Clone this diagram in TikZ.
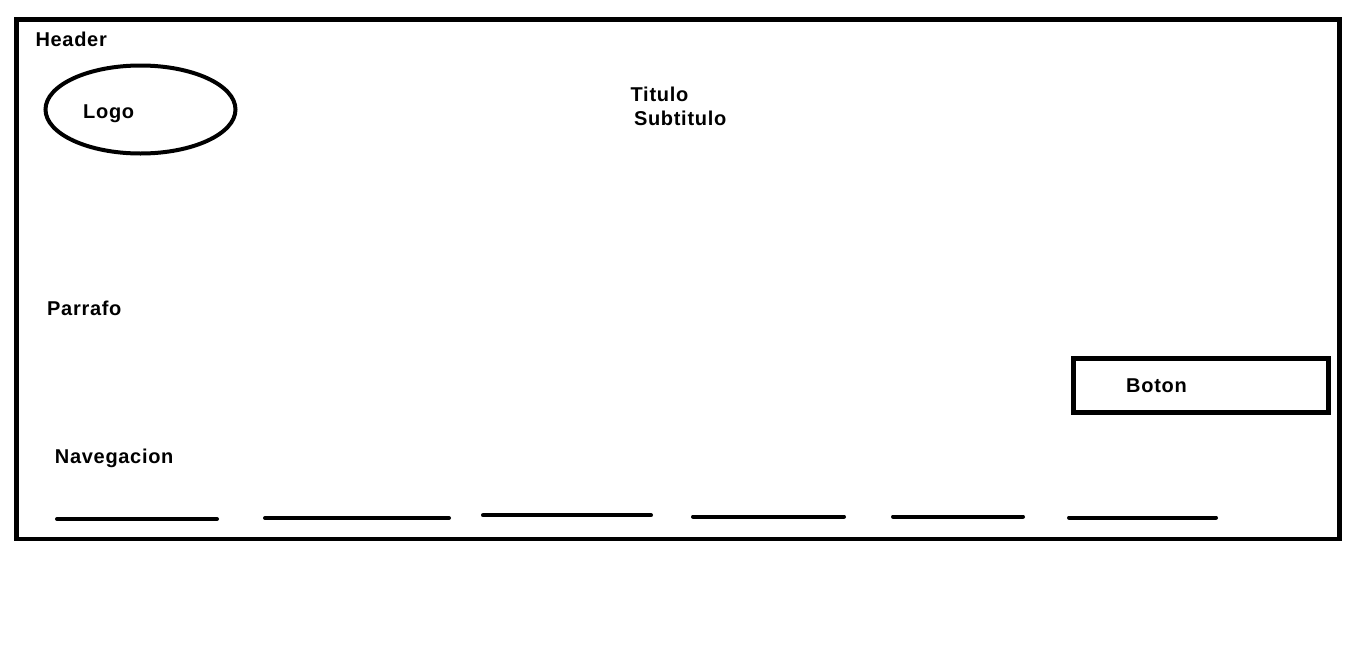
\documentclass[tikz,border=0pt]{standalone}
\usepackage{fontspec}
\setmainfont{Liberation Sans}
\newfontfamily\lblfont[LetterSpace=3.5]{Liberation Sans}
\usetikzlibrary{shapes.geometric}
\tikzset{
  lbl/.style={anchor=base west,inner sep=0pt,font=\lblfont\fontsize{20}{23}\selectfont\bfseries},
  frame/.style={draw=black,line width=4.5pt},
  navline/.style={draw=black,line width=4pt,line cap=round}
}
\begin{document}
\begin{tikzpicture}[x=1pt,y=-1pt]
\useasboundingbox[fill=white] (0,0) rectangle (1360,659);
% outer header frame
\draw[frame] (16.5,19.5) rectangle (1339.5,539);
% logo ellipse
\node[ellipse,draw=black,line width=4pt,minimum width=190pt,minimum height=88pt,inner sep=0pt] (logoshape) at (140.5,109.5) {};
% button
\draw[frame] (1073.5,358.5) rectangle (1328.5,412.5);
% labels
\node[lbl] (header) at (35.3,46) {Header};
\node[lbl] (logo) at (83,118.3) {Logo};
\node[lbl] (titulo) at (630.5,101.7) {Titulo};
\node[lbl] (subtitulo) at (633.8,125) {Subtitulo};
\node[lbl] (parrafo) at (47,315) {Parrafo};
\node[lbl] (boton) at (1126,392.3) {Boton};
\node[lbl] (nav) at (54.7,463.3) {Navegacion};
% navigation lines
\coordinate (n1a) at (57,519); \coordinate (n1b) at (217,519);
\coordinate (n2a) at (265,518); \coordinate (n2b) at (449,518);
\coordinate (n3a) at (483,515.3); \coordinate (n3b) at (651,515.3);
\coordinate (n4a) at (693,516.5); \coordinate (n4b) at (844,516.5);
\coordinate (n5a) at (893,516.5); \coordinate (n5b) at (1023,516.5);
\coordinate (n6a) at (1069,517.5); \coordinate (n6b) at (1216,517.5);
\draw[navline] (n1a) -- (n1b);
\draw[navline] (n2a) -- (n2b);
\draw[navline] (n3a) -- (n3b);
\draw[navline] (n4a) -- (n4b);
\draw[navline] (n5a) -- (n5b);
\draw[navline] (n6a) -- (n6b);
\end{tikzpicture}
\end{document}
